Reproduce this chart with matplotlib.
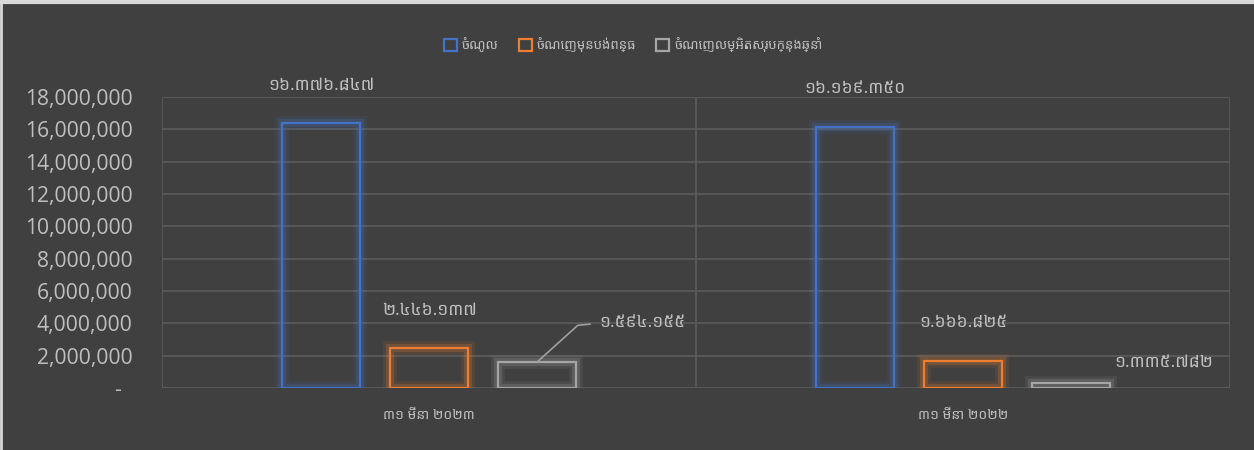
import matplotlib
matplotlib.use("Agg")
import matplotlib.pyplot as plt
import matplotlib.patheffects as pe
from matplotlib import font_manager
from matplotlib.ticker import FuncFormatter
import numpy as np

# data
categories = ["៣១ មីនា ២០២៣", "៣១ មីនា ២០២២"]
series = ["ចំណូល", "ចំណេញមុនបង់ពន្ធ", "ចំណេញលម្អិតសរុបក្នុងឆ្នាំ"]
revenue = [16376847, 16169350]
profit_before_tax = [2446137, 1666825]
net_profit = [1594155, 335782]
label_text = [
    ["១៦.៣៧៦.៨៤៧", "២.៤៤៦.១៣៧", "១.៥៩៤.១៥៥"],
    ["១៦.១៦៩.៣៥០", "១.៦៦៦.៨២៥", "១.៣៣៥.៧៨២"],
]
yticks = np.arange(0, 18000001, 2000000)

colors = ["#4472C4", "#ED7D31", "#A5A5A5"]
bg = "#404040"
txt = "#BFBFBF"

# look for a font that has Khmer glyphs
khmer_fonts = []
try:
    from fontTools.ttLib import TTFont
    for f in font_manager.fontManager.ttflist:
        try:
            tt = TTFont(f.fname, fontNumber=0, lazy=True)
            if 0x1780 in tt.getBestCmap():
                if f.name not in khmer_fonts:
                    khmer_fonts.append(f.name)
        except Exception:
            pass
except Exception:
    pass
prefer = ["Khmer OS System", "Khmer OS", "Noto Sans Khmer", "Hanuman", "Battambang"]
pick = [n for n in prefer if n in khmer_fonts] + [n for n in khmer_fonts if "Unifont" not in n]
kfam = pick[:1] + ["DejaVu Sans"]

fig = plt.figure(figsize=(12.54, 4.5), dpi=100, facecolor=bg)
ax = fig.add_axes([162 / 1254, 1 - 388 / 450, (1230 - 162) / 1254, (388 - 97) / 450])
ax.set_facecolor(bg)

values = [revenue, profit_before_tax, net_profit]
x = np.arange(len(categories))
width = 0.146
step = 0.202
bars = []
for i, (vals, c) in enumerate(zip(values, colors)):
    b = ax.bar(x + (i - 1) * step, vals, width, facecolor="none", edgecolor=c,
               linewidth=1.6, label=series[i], zorder=3)
    for r in b:
        r.set_path_effects([pe.Stroke(linewidth=10, foreground=c, alpha=0.10),
                            pe.Stroke(linewidth=6, foreground=c, alpha=0.22),
                            pe.Normal()])
    bars.append(b)

ax.set_xlim(-0.5, 1.5)
ax.set_ylim(0, 18000000)
ax.set_yticks(yticks)
ax.yaxis.set_major_formatter(FuncFormatter(lambda v, p: "-  " if v == 0 else f"{v:,.0f}"))
ax.set_xticks(x)
ax.set_xticklabels(categories, family=kfam, fontsize=10, color=txt)
ax.tick_params(axis="x", length=0, pad=14)
ax.tick_params(axis="y", length=0, pad=21, labelsize=15.2, labelcolor=txt)
for lbl in ax.get_yticklabels():
    lbl.set_family(["Open Sans", "DejaVu Sans"])

ax.grid(axis="y", color="#5A5A5A", linewidth=1.3, zorder=0)
for xv in [-0.5, 0.5, 1.5]:
    ax.axvline(xv, color="#5A5A5A", linewidth=1.3, zorder=0)
for s in ax.spines.values():
    s.set_visible(False)

# data labels (offsets in points, placed like the original)
offsets = [
    [(0, 28), (0, 28), (45, 29)],
    [(0, 28), (0, 28), (67, 15)],
]
for i in range(3):
    for j in range(2):
        r = bars[i][j]
        cx = r.get_x() + r.get_width() / 2
        top = r.get_height()
        dx, dy = offsets[j][i]
        ha = "center"
        if j == 0 and i == 2:
            # leader line from the bar top to the moved label
            ha = "left"
            base = ax.transData.transform((cx, top))
            lx = [0, 29.5, 38.2]
            ly = [0, 26.6, 27.4]
            line = plt.Line2D([base[0] + v / 0.72 for v in lx],
                              [base[1] + v / 0.72 for v in ly],
                              transform=None, color="#A0A0A0", lw=1.2, zorder=5)
            fig.add_artist(line)
        ax.annotate(label_text[j][i], (cx, top), xytext=(dx, dy),
                    textcoords="offset points", ha=ha, va="center",
                    family=kfam, fontsize=12.5, color=txt, zorder=5)

leg = fig.legend(loc="center", bbox_to_anchor=(0.505, 1 - 45 / 450), ncol=3,
                 frameon=False, handlelength=1.0, handleheight=1.0,
                 handletextpad=0.4, columnspacing=1.5,
                 prop={"family": kfam, "size": 9.5})
for t in leg.get_texts():
    t.set_color(txt)
for h, c in zip(leg.legend_handles, colors):
    h.set_path_effects([])
    h.set_edgecolor(c)
    h.set_linewidth(1.6)

# border at top and left like the screenshot
fig.add_artist(plt.Line2D([0, 1], [1 - 2 / 450, 1 - 2 / 450], color="#D9D9D9", lw=3))
fig.add_artist(plt.Line2D([1.2 / 1254, 1.2 / 1254], [0, 1], color="#D9D9D9", lw=2.0))

fig.savefig("out.png", dpi=100, facecolor=bg)
